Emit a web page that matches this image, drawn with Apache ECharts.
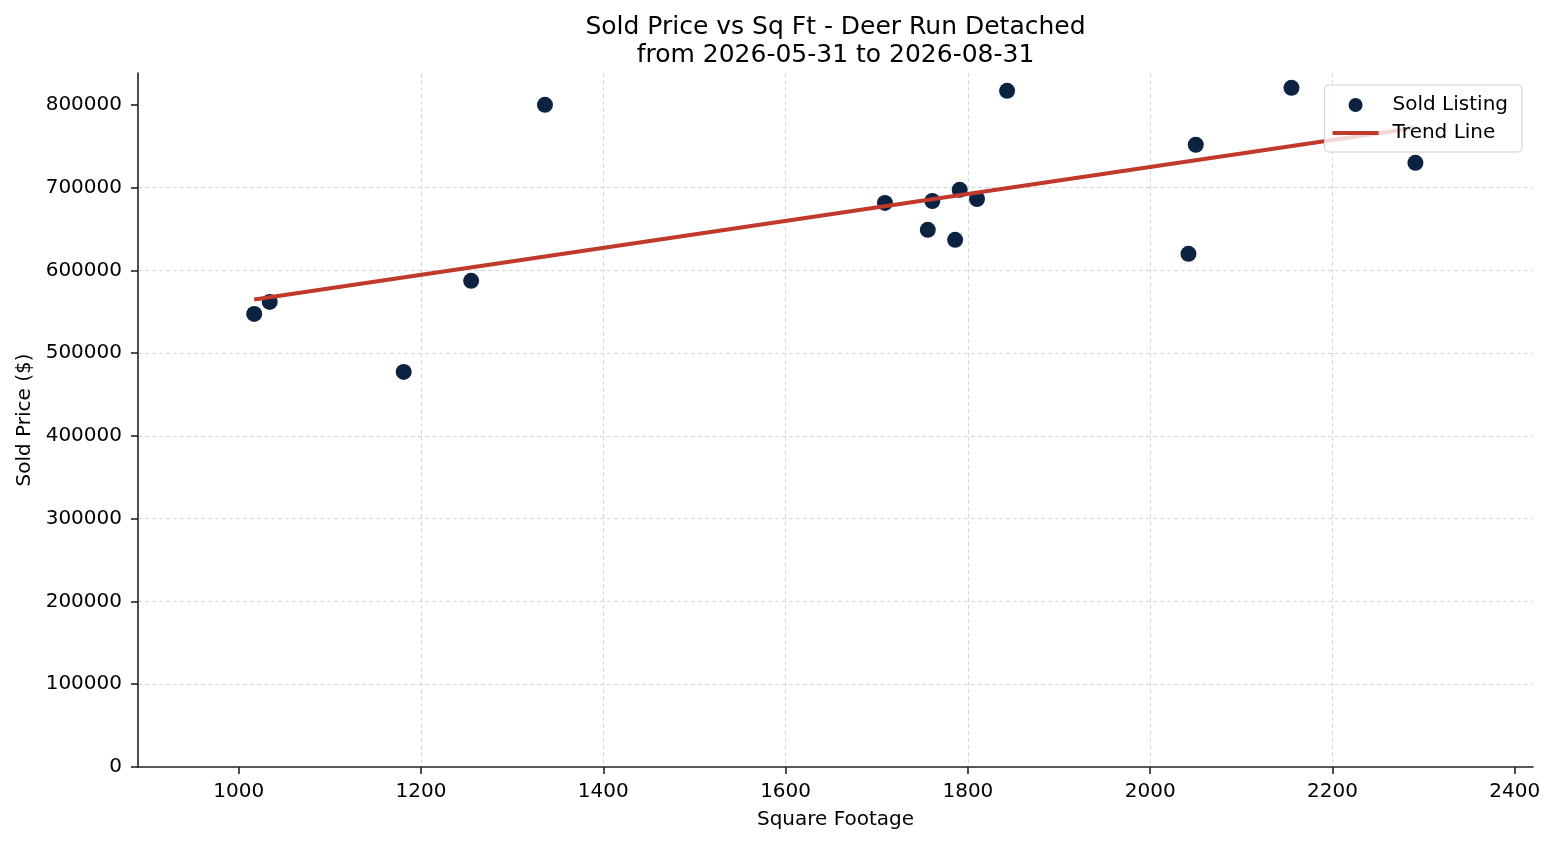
<!DOCTYPE html>
<html>
<head>
<meta charset="utf-8">
<title>Sold Price vs Sq Ft</title>
<script src="https://cdn.jsdelivr.net/npm/echarts@6/dist/echarts.min.js"></script>
<style>
  html, body { margin: 0; padding: 0; background: #fff; }
  #chart { width: 1555px; height: 845px; }
</style>
</head>
<body>
<div id="chart"></div>
<script>
// values
const sqft = [1017, 1034, 1181, 1255, 1336, 1709, 1756, 1761, 1786, 1791, 1810, 1843, 2042, 2050, 2155, 2291];
const soldPrice = [547400, 561900, 477300, 587300, 800000, 681400, 648900, 683800, 636900, 697300, 686200, 816900, 619900, 751700, 820500, 729900];
const trendX = [1017, 2291];
const trendY = [564700, 772300];
const xTicks = [1000, 1200, 1400, 1600, 1800, 2000, 2200, 2400];
const yTicks = [0, 100000, 200000, 300000, 400000, 500000, 600000, 700000, 800000];

const FONT = "DejaVu Sans";
const AXIS_COLOR = "#222";

const initChart = (target) => {
  if (!target) {
    return;
  }
  const myChart = echarts.init(target);

  const points = sqft.map((x, i) => [x, soldPrice[i]]);
  const trend = trendX.map((x, i) => [x, trendY[i]]);

  const axisCommon = {
    type: "value",
    axisLine: { show: true, onZero: false, lineStyle: { color: AXIS_COLOR, width: 1.6 } },
    axisTick: { show: true, length: 7, lineStyle: { color: AXIS_COLOR, width: 1.6 } },
    splitLine: {
      show: true,
      showMinLine: false,
      showMaxLine: false,
      lineStyle: { color: "#d6d6d6", width: 1, type: [4, 3] },
    },
    nameLocation: "middle",
    nameTextStyle: { fontFamily: FONT, fontSize: 20, color: "#000" },
  };

  const plainLabel = (v) => String(Math.round(v));

  const option = {
    animation: false,
    textStyle: { fontFamily: FONT },
    title: {
      text: "Sold Price vs Sq Ft - Deer Run Detached\nfrom 2026-05-31 to 2026-08-31",
      left: 830.5,
      top: 8,
      textAlign: "center",
      textStyle: {
        fontFamily: FONT,
        fontSize: 25,
        fontWeight: "normal",
        lineHeight: 28.5,
        color: "#000",
      },
    },
    grid: { left: 138, right: 22, top: 73, bottom: 78 },
    xAxis: {
      ...axisCommon,
      min: 889.5,
      max: 2420,
      splitNumber: 7,
      name: "Square Footage",
      nameGap: 43,
      axisTick: { ...axisCommon.axisTick, customValues: xTicks },
      axisLabel: {
        customValues: xTicks,
        formatter: plainLabel,
        margin: 15,
        fontFamily: FONT,
        fontSize: 20,
        color: "#000",
      },
    },
    yAxis: {
      ...axisCommon,
      min: 0,
      max: 838400,
      splitNumber: 8,
      name: "Sold Price ($)",
      nameGap: 100,
      axisTick: { ...axisCommon.axisTick, customValues: yTicks },
      axisLabel: {
        customValues: yTicks,
        formatter: plainLabel,
        margin: 16,
        fontFamily: FONT,
        fontSize: 20,
        color: "#000",
      },
    },
    legend: {
      orient: "vertical",
      right: 33,
      top: 85,
      padding: [10, 14, 9, 6],
      itemGap: 8,
      itemWidth: 46,
      itemHeight: 14,
      backgroundColor: "rgba(255,255,255,0.8)",
      borderColor: "#d0d0d0",
      borderWidth: 1,
      borderRadius: 4,
      textStyle: { fontFamily: FONT, fontSize: 20, color: "#000", padding: [0, 0, 0, 9] },
      data: [
        { name: "Sold Listing", icon: "circle" },
        {
          name: "Trend Line",
          itemStyle: { opacity: 0 },
          lineStyle: { width: 4, color: "#c0392b" },
        },
      ],
      z: 10,
    },
    series: [
      {
        name: "Sold Listing",
        type: "scatter",
        data: points,
        symbolSize: 16,
        itemStyle: { color: "#0b2341", opacity: 1 },
        z: 2,
      },
      {
        name: "Trend Line",
        type: "line",
        data: trend,
        symbol: "none",
        showSymbol: false,
        lineStyle: { color: "#c0392b", width: 4 },
        itemStyle: { color: "#c0392b" },
        z: 3,
      },
    ],
  };

  option && myChart.setOption(option);
  return myChart;
};

initChart(document.getElementById("chart"));
</script>
</body>
</html>
